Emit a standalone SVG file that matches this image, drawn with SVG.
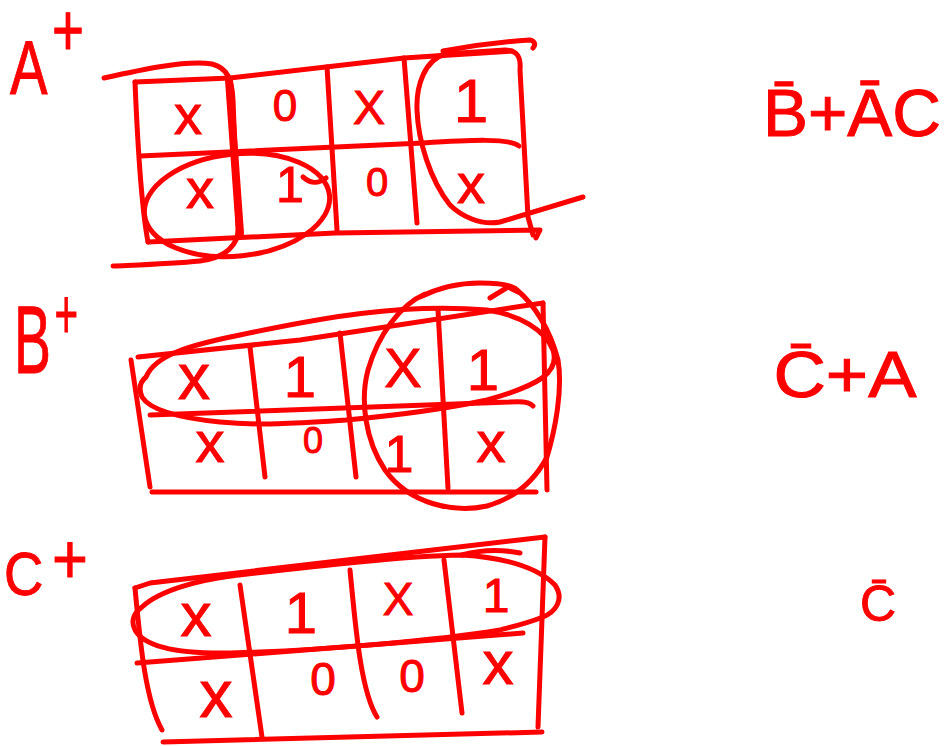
<svg xmlns="http://www.w3.org/2000/svg" width="944" height="746" viewBox="0 0 944 746">
<style>
.s{fill:none;stroke:#ff0000;stroke-width:5;stroke-linecap:round;stroke-linejoin:round}
.b{stroke-width:8}
.t{font-family:"Liberation Sans",Arial,sans-serif;fill:#ff0000;stroke:#ff0000;stroke-width:1;text-anchor:middle}
.l{text-anchor:start}
</style>
<rect width="944" height="746" fill="#ffffff"/>
<g id="map-a">
<text class="t l" x="10" y="94" font-size="76" textLength="74" lengthAdjust="spacingAndGlyphs">A<tspan dx="6" dy="-38" font-size="74">+</tspan></text>
<path class="s" d="M135,82 C137,130 140,200 148,242"/>
<path class="s" d="M135,82 L230,78 L404,58 L512,51"/>
<path class="s" d="M443,51 C470,46 500,42 530,40 C535,41 536,45 533,48"/>
<path class="s" d="M148,242 L335,233 L540,230 L536,238"/>
<path class="s" d="M140,156 L423,143 C470,140 510,138 519,146"/>
<path class="s b" d="M229,80 L240,233"/>
<path class="s" d="M327,67 L337,230"/>
<path class="s" d="M404,58 L417,223"/>
<path class="s" d="M104,78 C140,70 185,60 212,64 C228,68 232,80 233,100 L238,225 C240,245 225,258 200,261 C170,264 135,265 113,266"/>
<path class="s" d="M583,197 L500,222 C480,226 460,215 450,205 C430,180 418,140 417,110 C416,85 425,60 445,54 L505,50 C518,50 521,58 520,70 L528,217 L533,235"/>
<ellipse class="s" cx="237" cy="205" rx="93" ry="51" transform="rotate(-6 237 205)"/>
<path class="s" d="M303,177 C311,184 318,184 326,178"/>
<text class="t" x="188" y="134" font-size="56">x</text>
<text class="t" x="285" y="121" font-size="44">0</text>
<text class="t" x="369" y="124" font-size="48">X</text>
<text class="t" x="471" y="122" font-size="62">1</text>
<text class="t" x="200" y="208" font-size="56">x</text>
<text class="t" x="290" y="202" font-size="50">1</text>
<text class="t" x="377" y="196" font-size="40">0</text>
<text class="t" x="471" y="203" font-size="56">x</text>
</g>
<g id="map-b">
<text class="t l" x="14" y="373" font-size="96" textLength="64" lengthAdjust="spacingAndGlyphs">B<tspan dx="6" dy="-35" font-size="70">+</tspan></text>
<path class="s" d="M131,360 L150,487"/>
<path class="s" d="M138,357 L300,340 L543,303"/>
<path class="s" d="M543,303 L547,490"/>
<path class="s" d="M152,492 L536,492"/>
<path class="s" d="M150,415 L510,402 C522,401 530,402 533,406"/>
<path class="s" d="M250,347 L265,477"/>
<path class="s" d="M340,333 L356,477"/>
<path class="s" d="M438,310 L448,488"/>
<path class="s" d="M146,377 C155,355 190,345 240,335 C320,318 400,303 487,310 C520,315 545,330 553,350 C560,372 540,385 487,400 C440,410 390,416 346,420 C300,423 260,426 220,422 C180,418 150,410 142,397 C138,388 140,382 146,377 Z"/>
<path class="s" d="M420,297 C440,287 460,283 480,283 C500,283 512,285 517,290 C535,305 550,330 558,360 C563,390 555,430 547,457 C535,480 515,498 487,506 C455,513 410,505 385,470 C365,440 360,400 368,370 C378,335 400,305 425,294"/>
<path class="s" d="M490,298 L508,287 L518,292"/>
<text class="t" x="194" y="399" font-size="64">x</text>
<text class="t" x="300" y="397" font-size="58">1</text>
<text class="t" x="403" y="387" font-size="56">X</text>
<text class="t" x="483" y="390" font-size="58">1</text>
<text class="t" x="210" y="462" font-size="58">x</text>
<text class="t" x="313" y="453" font-size="36">0</text>
<text class="t" x="399" y="472" font-size="52">1</text>
<text class="t" x="491" y="462" font-size="58">x</text>
</g>
<g id="map-c">
<text class="t l" x="4" y="595" font-size="62" textLength="84" lengthAdjust="spacingAndGlyphs">C<tspan dx="10" dy="-12" font-size="70">+</tspan></text>
<path class="s" d="M135,588 C140,640 145,700 162,730"/>
<path class="s" d="M135,588 L150,583 L545,537"/>
<path class="s" d="M545,537 L538,727"/>
<path class="s" d="M163,742 L542,732"/>
<path class="s" d="M137,663 L523,633"/>
<path class="s" d="M240,585 L262,737"/>
<path class="s" d="M350,570 C355,620 360,690 377,717"/>
<path class="s" d="M444,560 L462,713"/>
<path class="s" d="M142,607 C160,590 200,580 231,576 C300,568 400,556 462,555 C510,558 540,570 555,585 C565,600 555,612 543,617 C520,626 505,628 500,630 C440,640 330,650 231,653 C180,654 145,648 135,630 C130,620 135,612 142,607 Z"/>
<path class="s" d="M520,553 C500,549 480,550 462,555"/>
<text class="t" x="196" y="636" font-size="62">x</text>
<text class="t" x="301" y="633" font-size="58">1</text>
<text class="t" x="398" y="615" font-size="46">X</text>
<text class="t" x="496" y="612" font-size="48">1</text>
<text class="t" x="216" y="717" font-size="66">x</text>
<text class="t" x="323" y="695" font-size="46">0</text>
<text class="t" x="412" y="692" font-size="46">0</text>
<text class="t" x="498" y="684" font-size="62">x</text>
</g>
<g id="results">
<text class="t" x="852" y="136" font-size="66" textLength="178" lengthAdjust="spacingAndGlyphs">B̄+ĀC</text>
<text class="t" x="845" y="397" font-size="64" textLength="143" lengthAdjust="spacingAndGlyphs">C̄+A</text>
<text class="t" x="878" y="621" font-size="50">C̄</text>
</g>
</svg>
